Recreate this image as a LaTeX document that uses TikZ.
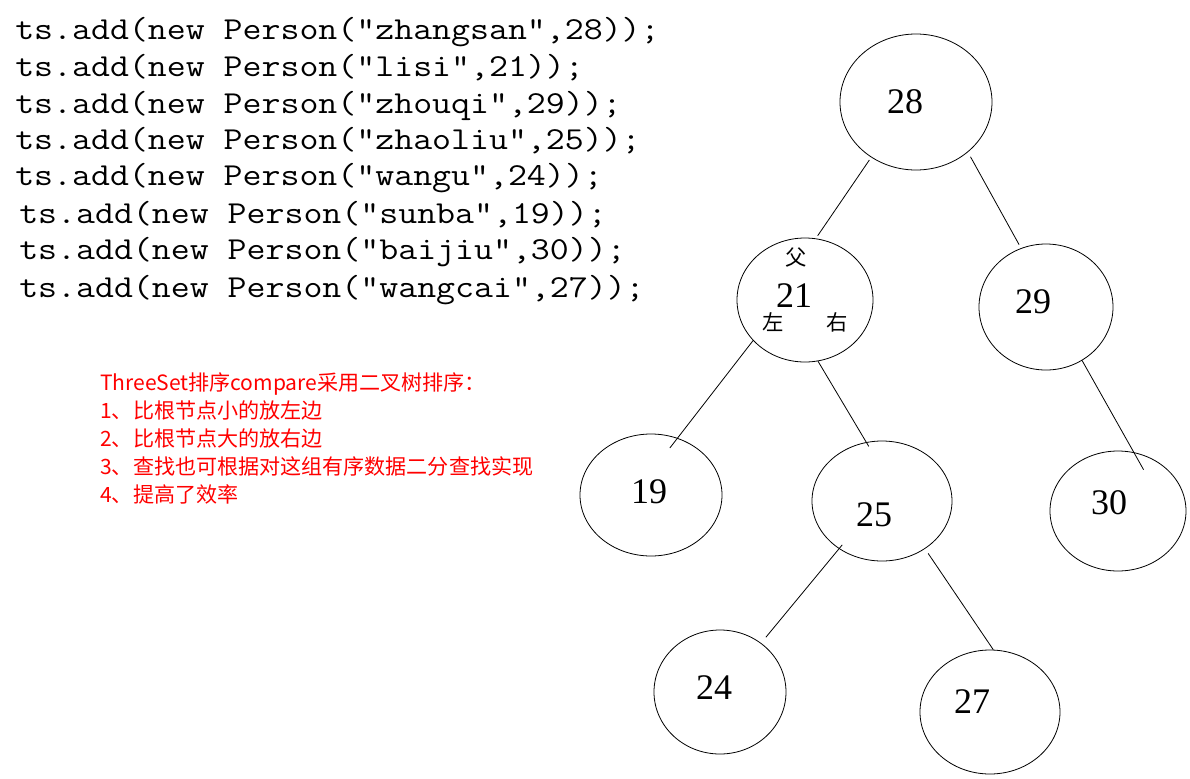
\documentclass[tikz,border=0pt]{standalone}
\usepackage{fontspec}
\usepackage{tikz}
\usetikzlibrary{shapes.geometric}
\newfontfamily\codefont[FakeStretch=1.15]{Latin Modern Mono}
\newfontfamily\numfont{Liberation Serif}
\newfontfamily\cjkfont{Noto Sans CJK SC}

\begin{document}
\begin{tikzpicture}[x=0.75pt,y=-0.75pt,
	bubble/.style={draw,ellipse,inner sep=0pt,line width=0.6pt},
	val/.style={inner sep=0pt,font=\numfont\fontsize{27}{27}\selectfont},
	side/.style={inner sep=0pt,font=\cjkfont\fontsize{16}{16}\selectfont},
	code/.style={anchor=base west,inner sep=0pt,font=\codefont\fontsize{24}{24}\selectfont},
	rule/.style={anchor=base west,inner sep=0pt,text=red,font=\cjkfont\fontsize{15.8}{15.8}\selectfont},
	link/.style={line width=0.6pt}]
	\useasboundingbox (0,0) rectangle (1190,779);
	
	% the calls
	\foreach \x/\y/\s [count=\i] in {15/39/{ts.add(new Person("zhangsan",28));},
		15/76/{ts.add(new Person("lisi",21));},
		15/113/{ts.add(new Person("zhouqi",29));},
		15/149/{ts.add(new Person("zhaoliu",25));},
		15/185/{ts.add(new Person("wangu",24));},
		19/223/{ts.add(new Person("sunba",19));},
		19/259/{ts.add(new Person("baijiu",30));},
		19/297/{ts.add(new Person("wangcai",27));}} {
		\node[code] (c\i) at (\x,\y) {\s};
	}
	
	% the notes
	\foreach \s [count=\i] in {ThreeSet排序compare采用二叉树排序：,
		1、比根节点小的放左边, 2、比根节点大的放右边,
		3、查找也可根据对这组有序数据二分查找实现, 4、提高了效率} {
		\node[rule] (r\i) at (100,362+28*\i) {\s};
	}
	
	% the tree
	\node[bubble,minimum width=114pt,minimum height=102pt] (n28) at (916,102) {};
	\node[bubble,minimum width=102pt,minimum height=93pt] (n21) at (805,300) {};
	\node[bubble,minimum width=100.5pt,minimum height=94.5pt] (n29) at (1046,307) {};
	\node[bubble,minimum width=106.5pt,minimum height=91.5pt] (n19) at (651,495) {};
	\node[bubble,minimum width=105pt,minimum height=90pt] (n25) at (882,501) {};
	\node[bubble,minimum width=102pt,minimum height=90pt] (n30) at (1118,511) {};
	\node[bubble,minimum width=99pt,minimum height=93pt] (n24) at (720,692) {};
	\node[bubble,minimum width=105pt,minimum height=93pt] (n27) at (990,712) {};
	
	\node[val] (v28) at (905,102) {28};
	\node[val] (v21) at (794,296) {21};
	\node[val] (v29) at (1033,302) {29};
	\node[val] (v19) at (649,492) {19};
	\node[val] (v25) at (874,515) {25};
	\node[val] (v30) at (1109,503) {30};
	\node[val] (v24) at (714,688) {24};
	\node[val] (v27) at (972,702) {27};
	
	\node[side] (fu) at (796,257) {父};
	\node[side] (zuo) at (773,322) {左};
	\node[side] (you) at (837,322) {右};
	
	\draw[link,shorten <=2.4pt,shorten >=2.4pt] (n28.231.4) -- (n21.80.6);
	\draw[link,shorten <=4pt,shorten >=3pt] (n28.316.8) -- (n29.113.3);
	\draw[link,shorten >=-9.4pt] (n21.218) -- (n19.65.7);
	\draw[link,shorten >=-3.7pt] (n21.282.7) -- (n25.105.7);
	\draw[link,shorten >=-15pt] (n29.304.4) -- (n30.75.2);
	\draw[link,shorten <=-3.8pt,shorten >=5.6pt] (n25.228.6) -- (n24.50.8);
	\draw[link,shorten <=4.2pt] (n25.312.2) -- (n27.87.1);
\end{tikzpicture}
\end{document}
